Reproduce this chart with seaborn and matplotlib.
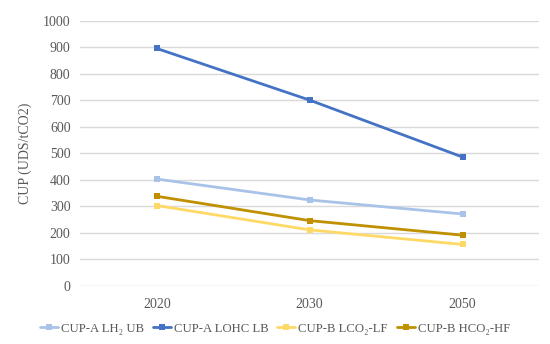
import matplotlib.pyplot as plt
import pandas as pd
import seaborn as sns

years = ['2020', '2030', '2050']
series_names = ['CUP-A LH₂ UB', 'CUP-A LOHC LB', 'CUP-B LCO₂-LF', 'CUP-B HCO₂-HF']
lh2_ub = [402, 323, 270]
lohc_lb = [895, 700, 485]
lco2_lf = [302, 210, 155]
hco2_hf = [337, 245, 190]
colors = ['#A9C3E8', '#4472C4', '#FFD966', '#BF9000']

df = pd.DataFrame({
    'Year': years * 4,
    'Series': [s for s in series_names for _ in years],
    'CUP': lh2_ub + lohc_lb + lco2_lf + hco2_hf,
})

sns.set_theme(style='whitegrid')
plt.rcParams['font.family'] = ['Liberation Serif', 'DejaVu Serif']
plt.rcParams['grid.color'] = '#D9D9D9'
plt.rcParams['grid.linewidth'] = 1.0

fig, ax = plt.subplots(figsize=(5.5, 3.44), dpi=100)
sns.lineplot(data=df, x='Year', y='CUP', hue='Series', palette=colors,
             marker='s', markersize=5, markeredgewidth=0, linewidth=2,
             sort=False, ax=ax, legend=True)

ax.set_xlim(-0.5, 2.5)
ax.set_ylim(0, 1000)
ax.set_yticks(range(0, 1001, 100))
ax.xaxis.grid(False)
for s in ax.spines.values():
    s.set_visible(False)
ax.tick_params(axis='y', length=0, labelsize=10, colors='#595959', pad=7)
ax.tick_params(axis='x', length=0, labelsize=10, colors='#595959', pad=9)
ax.set_xlabel('')
ax.set_ylabel('CUP (UDS/tCO2)', fontsize=10, color='#595959', labelpad=8)

handles, labels = ax.get_legend_handles_labels()
ax.get_legend().remove()
fig.legend(handles, labels, loc='center', bbox_to_anchor=(0.5, 0.045), ncol=4,
           frameon=False, fontsize=9.2, handlelength=1.4, handletextpad=0.25,
           columnspacing=0.7, labelcolor='#595959')

plt.subplots_adjust(left=0.146, right=0.98, top=0.94, bottom=0.17)
plt.savefig('out.png')
